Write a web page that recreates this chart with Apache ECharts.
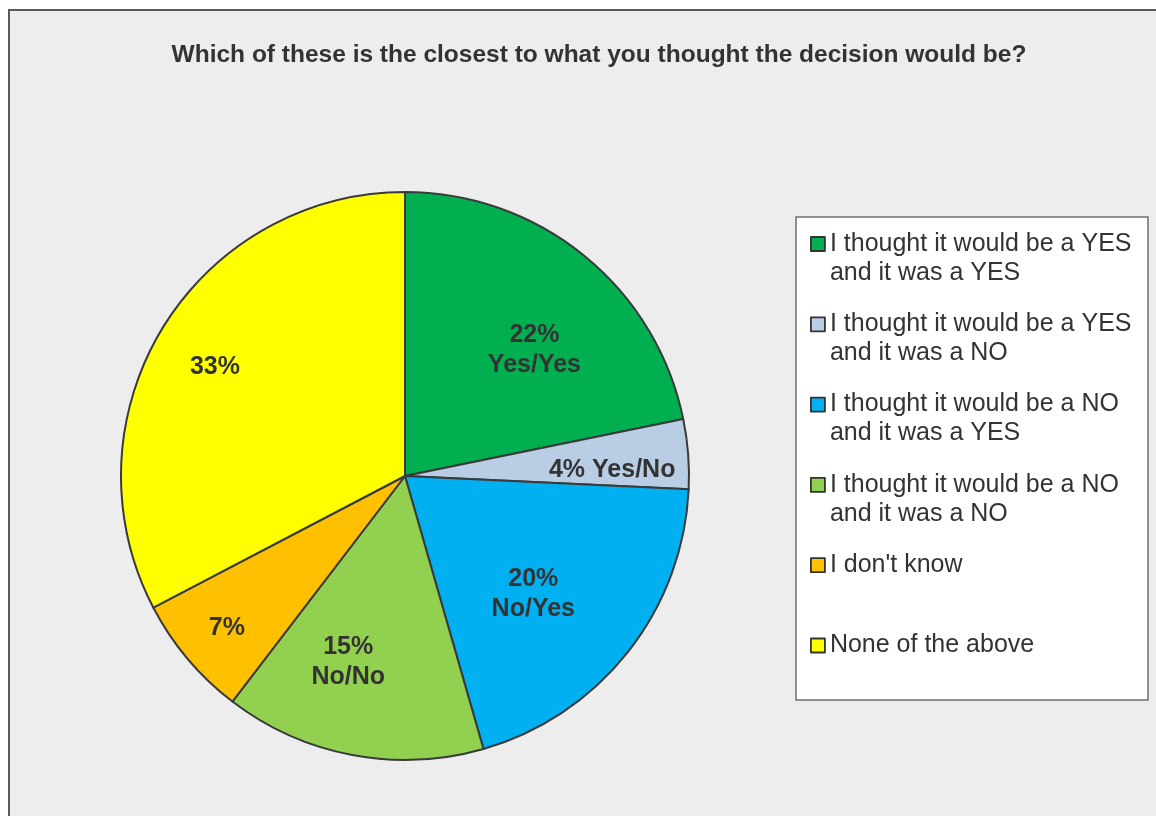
<!DOCTYPE html>
<html>
<head>
<meta charset="utf-8">
<title>Which of these is the closest to what you thought the decision would be?</title>
<script src="https://cdn.jsdelivr.net/npm/echarts@6/dist/echarts.min.js"></script>
<style>
  html, body { margin: 0; padding: 0; background: #ffffff; }
  #chart { width: 1156px; height: 816px; }
</style>
</head>
<body>
<div id="chart"></div>
<script>
// Survey answers (percent of respondents), clockwise from 12 o'clock
const answers = [
  'I thought it would be a YES and it was a YES',
  'I thought it would be a YES and it was a NO',
  'I thought it would be a NO and it was a YES',
  'I thought it would be a NO and it was a NO',
  "I don't know",
  'None of the above'
];
const shares = [22, 4, 20, 15, 7, 33];
const shortTags = ['Yes/Yes', 'Yes/No', 'No/Yes', 'No/No', '', ''];
const sliceColors = ['#00B050', '#B9CDE5', '#00B0F0', '#92D050', '#FFC000', '#FFFF00'];

// Pie geometry
const CX = 405, CY = 476, R = 284;
// Label placement: angular nudge (deg) from the slice middle and radius fraction
const labelNudge = [6.2, 2.3, 3.9, 6.4, 0, -0.9];
const labelRadius = [0.64, 0.73, 0.61, 0.68, 0.82, 0.775];

const total = shares.reduce((a, b) => a + b, 0);
function midAngle(i) {
  let before = 0;
  for (let k = 0; k < i; k++) before += shares[k];
  return (before + shares[i] / 2) / total * 360;
}

// Legend rows: one legend per entry. Wrapped entries get leading blank lines
// so that the first text line is centred on the swatch.
const LEGEND_LEFT = 810, LEGEND_FIRST = 244, LEGEND_STEP = 80.3, LINE_H = 29;
function wrapped(name) { return name.replace(' and ', '\nand '); }
function legendText(name) {
  const n = wrapped(name).split('\n').length;
  return '\n'.repeat(n - 1) + wrapped(name);
}
const legends = answers.map((name, i) => {
  const lines = legendText(name).split('\n').length;
  const blockH = lines * LINE_H;
  return {
    data: [name],
    left: LEGEND_LEFT,
    top: LEGEND_FIRST + i * LEGEND_STEP - blockH / 2,
    orient: 'vertical',
    padding: 0,
    selectedMode: false,
    icon: 'rect',
    itemWidth: 14,
    itemHeight: 14,
    itemStyle: { borderColor: '#333333', borderWidth: 1.8 },
    formatter: legendText,
    textStyle: {
      fontFamily: 'Liberation Sans, Arial, sans-serif',
      fontSize: 25,
      lineHeight: LINE_H,
      color: '#333333'
    }
  };
});

const chart = echarts.init(document.getElementById('chart'), null, { renderer: 'canvas' });
chart.setOption({
  backgroundColor: '#ffffff',
  animation: false,
  graphic: [
    {
      type: 'rect', z: -10,
      shape: { x: 9, y: 10, width: 1200, height: 900 },
      style: { fill: '#EDEDED', stroke: '#5a5a5a', lineWidth: 2 }
    },
    {
      type: 'rect', z: -5,
      shape: { x: 796, y: 217, width: 352, height: 483 },
      style: { fill: '#ffffff', stroke: '#6e6e6e', lineWidth: 1.5 }
    }
  ],
  title: {
    text: 'Which of these is the closest to what you thought the decision would be?',
    left: 599,
    top: 43,
    textAlign: 'center',
    padding: 0,
    textStyle: {
      fontFamily: 'Liberation Sans, Arial, sans-serif',
      fontWeight: 'bold',
      fontSize: 24.5,
      color: '#333333'
    }
  },
  legend: legends,
  series: [{
    type: 'pie',
    center: [CX, CY],
    radius: [0, R],
    startAngle: 90,
    clockwise: true,
    avoidLabelOverlap: false,
    silent: true,
    data: answers.map((name, i) => ({
      name: name,
      value: shares[i],
      itemStyle: { color: sliceColors[i] }
    })),
    itemStyle: { borderColor: '#3a3a3a', borderWidth: 2 },
    label: {
      show: true,
      position: 'inside',
      fontFamily: 'Liberation Sans, Arial, sans-serif',
      fontWeight: 'bold',
      fontSize: 25,
      lineHeight: 30,
      color: '#333333',
      formatter: p => {
        const tag = shortTags[p.dataIndex];
        if (!tag) return p.value + '%';
        return p.value + '%' + (p.value < 5 ? ' ' : '\n') + tag;
      }
    },
    labelLine: { show: false },
    labelLayout: p => {
      const i = p.dataIndex;
      const a = (midAngle(i) + labelNudge[i]) * Math.PI / 180;
      const r = R * labelRadius[i];
      return {
        x: CX + r * Math.sin(a),
        y: CY - r * Math.cos(a) + 2,
        align: 'center',
        verticalAlign: 'middle'
      };
    },
    emphasis: { disabled: true }
  }]
});
</script>
</body>
</html>
